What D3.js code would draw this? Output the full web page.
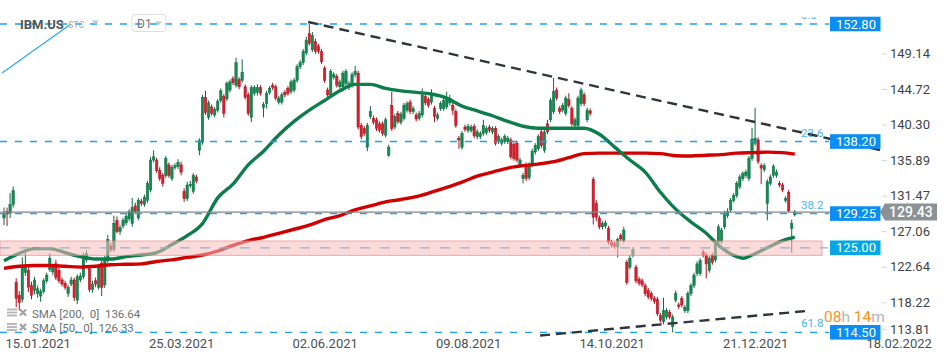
<!DOCTYPE html>
<html><head><meta charset="utf-8">
<script src="https://cdn.jsdelivr.net/npm/d3@7"></script>
<style>
html,body{margin:0;padding:0;background:#fff;}
svg{display:block;font-family:Roboto,"Noto Sans",Arial,sans-serif;}
</style></head><body>
<svg id="chart" width="950" height="361"></svg>
<script>
// ---------- DATA ----------
const opens = [
128.7,129.5,129.3,130.4,120.7,119.1,118.6,121.9,122.2,120.3,
119.7,119.3,119.0,119.6,120.9,122.3,122.0,123.0,122.2,121.0,
120.6,119.3,120.5,121.0,118.5,121.0,121.4,123.5,122.4,119.8,
120.9,120.1,123.1,120.4,123.4,125.2,124.8,128.4,127.0,127.7,
128.1,128.6,128.0,130.2,128.7,130.8,130.4,130.9,132.2,135.9,
135.9,134.6,134.0,134.0,135.3,133.6,135.0,135.1,135.3,132.0,
131.1,132.7,132.0,133.8,137.1,138.1,143.7,141.2,142.5,141.5,
142.1,143.3,143.8,143.5,144.6,146.0,145.2,145.9,145.8,145.0,
144.0,141.2,144.2,144.3,144.9,142.4,
142.9,144.3,145.2,145.0,143.1,143.1,144.3,144.8,144.4,144.6,
145.8,147.5,148.0,149.2,151.6,149.6,150.6,150.0,149.4,147.3,
144.6,144.0,146.2,146.3,145.0,145.0,145.4,144.9,145.2,146.5,
146.7,140.2,139.8,137.5,141.3,141.1,140.9,140.4,140.4,139.0,
136.5,142.7,140.0,141.7,140.6,141.1,142.1,143.1,141.9,141.5,
141.1,141.5,143.8,143.4,143.1,142.3,141.1,142.3,142.3,142.5,
143.0,142.7,141.9,138.6,137.5,140.0,139.6,139.6,140.1,138.8,
138.8,139.2,139.3,140.0,139.4,139.8,138.2,138.0,138.2,138.2,
138.4,137.8,138.0,135.3,133.6,135.3,133.7,135.3,
136.9,137.3,139.4,137.1,140.4,140.9,141.9,144.6,142.3,142.1,
141.7,143.4,142.3,140.2,140.2,142.9,144.0,140.9,142.0,133.5,
130.5,128.7,127.6,127.7,127.4,125.7,125.5,125.1,126.5,125.9,
123.2,122.6,124.1,122.6,121.1,120.9,120.3,119.7,119.3,118.7,
118.6,116.6,115.8,116.4,117.0,115.2,118.5,117.9,118.7,117.2,
117.2,119.3,120.3,121.8,121.8,124.5,124.1,122.2,124.1,123.5,
125.7,125.8,127.6,129.0,129.7,130.9,131.5,132.6,133.6,134.0,
133.6,136.1,138.0,138.4,135.2,134.7,130.5,133.0,134.0,134.0,
133.0,132.8,130.9,131.9,127.4,129.1];
const highs = [
130.0,130.0,131.8,132.6,121.2,119.6,123.8,124.4,122.6,120.8,
121.4,120.3,119.9,121.2,121.9,124.3,123.0,123.5,122.5,121.3,
120.9,120.4,121.4,121.3,121.7,121.9,124.4,124.7,122.8,120.9,
121.3,123.0,123.5,124.0,126.6,125.6,129.0,128.9,127.8,128.7,
129.2,129.8,131.2,130.6,131.2,131.1,131.6,133.3,136.3,137.1,
136.2,135.0,134.3,136.4,135.6,135.3,135.5,136.0,135.7,132.4,
133.2,133.3,134.3,134.1,138.6,144.0,144.5,143.3,142.8,142.5,
143.5,144.8,144.1,145.7,145.9,146.3,148.6,146.2,148.4,145.3,
144.3,145.2,145.2,145.3,145.2,143.1,
144.5,145.1,145.5,145.3,143.9,144.3,144.6,145.1,145.9,146.1,
147.8,148.3,149.7,151.2,152.8,151.8,151.0,150.3,149.7,147.6,
144.9,147.2,146.8,146.6,145.9,147.0,147.2,145.7,146.8,147.6,
147.0,140.5,140.1,140.5,142.6,141.4,141.2,140.7,140.7,141.2,
137.8,144.4,141.6,142.0,141.9,143.0,143.2,143.4,142.6,141.8,
142.0,144.8,144.1,143.7,144.7,142.6,141.8,143.2,143.6,144.4,
144.0,143.0,142.2,138.9,139.5,140.3,140.4,140.3,140.4,139.7,
139.5,140.9,140.1,140.3,140.1,140.1,139.1,138.7,139.1,138.9,
138.7,138.1,138.3,136.2,134.3,135.6,135.6,137.3,
138.0,139.1,139.7,139.7,140.9,143.6,146.1,144.9,142.6,143.0,
143.9,144.2,142.6,141.2,143.9,144.9,144.3,142.4,142.3,133.8,
130.9,129.0,128.3,128.4,127.7,126.0,125.8,126.3,126.8,127.6,
123.5,124.1,125.1,122.9,121.4,121.2,120.6,120.0,119.6,119.0,
118.9,116.9,118.8,117.5,117.3,116.7,119.7,118.2,119.0,117.9,
119.6,120.6,121.9,123.3,123.7,124.8,124.4,124.0,124.4,126.0,
127.9,127.5,129.6,129.9,131.2,131.8,133.3,134.1,134.5,134.7,
136.4,139.9,142.4,138.7,135.5,135.5,133.5,134.1,135.4,134.7,
133.3,133.1,131.4,132.2,128.5,129.7];
const lows = [
127.8,127.7,128.7,130.0,117.6,117.2,118.2,121.5,119.5,118.6,
119.2,118.8,118.3,119.3,120.6,122.0,121.6,121.0,120.6,120.2,
119.8,118.9,120.2,118.4,118.0,120.7,121.1,123.2,119.5,119.4,
120.1,119.8,119.0,120.0,123.1,124.5,124.5,126.8,126.6,127.4,
127.8,128.3,127.6,129.2,128.4,130.2,130.1,130.6,131.9,135.6,
134.3,133.3,132.6,133.7,133.7,133.3,134.7,134.8,134.0,130.7,
130.8,132.4,131.7,133.0,136.5,137.8,141.5,140.9,141.4,141.2,
141.8,143.0,141.2,143.2,144.3,145.2,144.9,144.7,145.5,143.4,
141.4,140.6,143.9,143.9,143.9,141.2,
142.3,144.0,144.6,143.3,142.8,142.8,143.7,143.9,144.1,144.3,
145.5,147.2,147.7,148.9,150.1,149.3,149.1,149.1,147.8,145.5,
143.7,143.7,145.9,144.9,144.7,144.7,145.1,144.6,144.9,146.2,
139.7,138.5,138.9,137.0,141.0,140.3,139.5,139.3,138.9,138.7,
136.3,139.5,139.7,140.4,140.3,140.8,141.8,141.6,141.6,140.7,
140.8,141.2,142.7,142.4,142.8,140.6,140.8,142.0,142.0,142.2,
142.7,141.5,139.9,137.3,137.2,139.4,139.3,139.3,138.6,138.5,
138.5,138.9,139.0,139.3,139.1,137.7,137.9,137.7,137.9,137.9,
136.0,135.8,135.6,135.0,133.0,133.3,133.4,135.0,
136.6,137.0,137.4,136.8,139.1,140.6,141.6,143.3,141.6,141.8,
141.4,142.4,140.1,139.9,139.9,142.6,142.6,140.6,141.4,127.9,
128.3,127.3,127.3,127.4,125.4,125.0,124.9,123.8,125.8,125.6,
120.4,122.3,123.8,120.6,120.3,120.1,119.0,118.6,118.4,118.0,
116.5,115.7,115.5,116.1,116.1,114.5,118.2,117.4,117.6,116.9,
116.9,119.0,120.0,121.5,121.5,123.8,121.2,121.9,122.9,123.2,
125.4,125.5,127.3,128.7,129.4,130.6,131.2,132.3,133.3,133.7,
133.3,135.8,137.7,135.4,132.9,134.4,128.4,132.7,133.7,133.7,
132.5,131.9,130.6,129.4,124.4,128.9];
const closes = [
129.3,129.2,130.4,132.1,118.7,118.2,122.6,122.7,120.1,119.1,
121.0,119.9,119.6,120.9,121.6,123.7,122.6,121.3,120.9,120.5,
120.1,120.1,121.0,118.8,121.4,121.5,124.1,124.3,119.8,120.5,
120.5,122.6,120.1,123.7,126.0,124.8,128.0,127.0,127.5,128.4,
128.9,129.5,130.0,129.5,130.9,130.5,131.3,133.0,135.9,136.3,
134.6,133.6,133.0,136.1,134.0,135.0,135.2,135.6,134.4,131.1,
132.8,132.9,134.0,133.3,138.3,143.7,141.8,143.0,141.7,142.2,
143.2,144.5,141.7,145.4,145.6,145.5,148.0,145.0,146.8,143.7,
141.7,144.9,144.9,144.9,144.2,142.8,
144.2,144.8,144.9,143.6,143.6,144.0,144.0,144.2,145.6,145.8,
147.5,148.0,149.4,150.8,150.4,151.4,149.4,149.4,148.1,145.8,
144.0,146.9,146.5,145.2,145.6,146.7,146.9,145.4,146.5,146.9,
140.0,138.8,139.2,140.2,141.9,140.6,139.8,139.6,139.2,140.9,
137.5,139.8,141.3,140.7,141.6,142.7,142.9,141.9,142.3,141.0,
141.7,144.0,143.0,142.7,144.2,141.3,141.5,142.9,143.3,143.6,
143.6,142.1,140.2,138.4,139.2,139.7,140.1,140.0,138.9,139.4,
139.2,140.2,139.8,139.6,139.8,138.0,138.8,138.4,138.8,138.6,
136.3,136.1,135.9,135.9,134.0,133.6,135.3,137.0,
137.7,138.8,137.7,139.4,139.4,143.3,144.4,143.6,141.9,142.7,
143.6,142.7,140.4,140.9,143.6,144.6,142.9,142.1,141.7,128.8,
128.8,127.6,128.0,128.1,125.7,125.3,125.2,126.0,126.1,127.2,
120.7,123.7,124.8,120.9,120.6,120.4,119.3,118.9,118.7,118.3,
116.8,116.0,117.2,117.2,116.4,116.4,119.3,117.7,117.9,117.6,
119.3,120.3,121.6,123.0,123.4,124.1,123.0,123.7,123.2,125.7,
127.6,127.2,129.3,129.5,130.9,131.5,133.0,133.8,134.2,134.4,
136.1,138.5,138.6,135.7,134.9,135.2,133.2,133.8,135.1,134.4,
132.8,132.2,131.1,129.6,128.0,129.43];

const sma50Idx = [0,5,10,15,20,25,30,35,40,45,50,55,60,65,70,75,80,85,90,95,100,105,110,115,120,125,130,135,140,145,150,155,160,165,170,175,180,185,190,195,200,205,210,215,220,225,230,233,235,240,242,245,250,255,259];
const sma50 = [123.4,124.3,124.9,124.9,124.4,123.9,123.6,123.6,123.9,124.1,124.4,125.4,126.5,128.0,131.2,132.9,135.3,137.0,139.0,140.7,142.1,143.3,144.5,145.3,145.3,144.8,144.5,144.3,144.1,143.6,142.6,142.0,141.4,140.7,140.1,139.85,139.85,139.85,139.85,139.1,137.5,135.9,134.4,131.9,129.8,128.2,126.8,125.7,125.0,123.9,123.7,124.1,125.0,125.9,126.33];
const sma200Idx = [0,5,10,15,20,25,30,35,40,45,50,55,60,65,70,75,80,85,90,95,100,105,110,115,120,125,130,135,140,145,150,155,160,165,170,175,180,185,190,195,200,205,210,215,220,225,230,235,240,245,250,255,259];
const sma200 = [122.45,122.7,122.8,122.8,122.7,122.6,122.7,122.9,122.95,123.0,123.3,123.5,123.8,124.1,124.6,125.3,125.9,126.3,126.8,127.3,127.8,128.5,129.0,129.7,130.2,130.7,131.0,131.35,131.9,132.5,133.15,133.9,134.4,134.9,135.2,135.4,135.7,136.2,136.7,136.76,136.76,136.76,136.76,136.7,136.44,136.4,136.5,136.57,136.76,136.82,136.88,136.82,136.64];

const levelValues = [152.80, 138.20, 129.25, 114.50];
const fibLabels = ["0.0", "23.6", "38.2", "61.8"];
const zoneValue = 125.00;
const zoneRange = [124.05, 125.85];
const lastPrice = 129.43;
const yTicks = [149.14, 144.72, 140.30, 135.89, 131.47, 127.06, 122.64, 118.22, 113.81];
const xTickIdx = [0, 47, 94, 141, 188, 235, 282];
const xTickLabels = ["15.01.2021","25.03.2021","02.06.2021","09.08.2021","14.10.2021","21.12.2021","18.02.2022"];
const upperTrendIdx = [99.6, 286.9], upperTrendVal = [153.05, 137.15];
const lowerTrendIdx = [175.6, 263.0], lowerTrendVal = [114.1, 117.15];
const legendLines = ["SMA [200,  0]  136.64", "SMA [50,  0]  126.33"];

// ---------- SCALES ----------
const svg = d3.select('#chart');
const x = d3.scaleLinear().domain([0, 282]).range([4, 865]);
const y = d3.scaleLinear().domain([152.8, 114.5]).range([24, 332.3]);

const GREEN = '#138a52', GREEN_D = '#0b6b3d', RED = '#d81f2d', RED_D = '#ab121e';
const LBLUE = '#19a2f2';

const candles = closes.map((c, i) => ({i, o: opens[i], h: highs[i], l: lows[i], c}));

// ---------- CANDLES ----------
const cg = svg.append('g');
cg.selectAll('line.wick').data(candles).join('line')
  .attr('x1', d => x(d.i)).attr('x2', d => x(d.i))
  .attr('y1', d => y(d.h)).attr('y2', d => y(d.l))
  .attr('stroke', d => d.c >= d.o ? GREEN_D : RED_D).attr('stroke-width', 1);
cg.selectAll('rect.body').data(candles).join('rect')
  .attr('x', d => x(d.i) - 1.2).attr('width', 2.4)
  .attr('y', d => y(Math.max(d.o, d.c)))
  .attr('height', d => Math.max(1.2, Math.abs(y(d.o) - y(d.c))))
  .attr('fill', d => d.c >= d.o ? GREEN : RED)
  .attr('stroke', d => d.c >= d.o ? GREEN_D : RED_D).attr('stroke-width', 0.5);

// ---------- SMA ----------
const lineGen = d3.line().x(d => x(d[0])).y(d => y(d[1])).curve(d3.curveMonotoneX);
svg.append('path').datum(sma200Idx.map((v, k) => [v, sma200[k]]))
  .attr('d', lineGen).attr('fill', 'none').attr('stroke', '#d10000').attr('stroke-width', 3.4).attr('stroke-linejoin','round');
svg.append('path').datum(sma50Idx.map((v, k) => [v, sma50[k]]))
  .attr('d', lineGen).attr('fill', 'none').attr('stroke', '#0d7d4b').attr('stroke-width', 3.4).attr('stroke-linejoin','round');

// ---------- ZONE ----------
svg.append('rect').attr('x', 0).attr('width', 822)
  .attr('y', y(zoneRange[1])).attr('height', y(zoneRange[0]) - y(zoneRange[1]))
  .attr('fill', 'rgba(247,188,188,0.55)').attr('stroke', 'rgba(232,120,120,0.55)').attr('stroke-width', 1);
svg.append('line').attr('x1', 0).attr('x2', 828).attr('y1', y(zoneValue)).attr('y2', y(zoneValue))
  .attr('stroke', '#8fb2d6').attr('stroke-width', 1.3).attr('stroke-dasharray', '10,10');

// ---------- LEVEL LINES ----------
svg.selectAll('line.lvl').data(levelValues).join('line')
  .attr('x1', 0).attr('x2', 829).attr('y1', d => y(d)).attr('y2', d => y(d))
  .attr('stroke', LBLUE).attr('stroke-width', 1.3).attr('stroke-dasharray', '7,8');

// current price line
svg.append('line').attr('x1', 0).attr('x2', 882).attr('y1', y(lastPrice)).attr('y2', y(lastPrice))
  .attr('stroke', '#7d888b').attr('stroke-width', 1.4);

// fib labels
svg.append('defs').append('clipPath').attr('id', 'topclip')
  .append('rect').attr('x', 0).attr('y', 17.2).attr('width', 950).attr('height', 345);
svg.selectAll('text.fib').data(levelValues).join('text')
  .attr('x', 801).attr('y', d => y(d) - 5)
  .attr('clip-path', 'url(#topclip)')
  .attr('font-size', 11.5).attr('fill', '#48b4ef')
  .text((d, k) => fibLabels[k]);

// ---------- TRENDLINES ----------
const trend = [[upperTrendIdx, upperTrendVal], [lowerTrendIdx, lowerTrendVal]];
trend.forEach(([ix, vv]) => {
  svg.append('line')
    .attr('x1', x(ix[0])).attr('y1', y(vv[0])).attr('x2', x(ix[1])).attr('y2', y(vv[1]))
    .attr('stroke', '#2f363b').attr('stroke-width', 2.4).attr('stroke-dasharray', '10,6');
});

// ---------- LEVEL LABEL BOXES ----------
const boxes = levelValues.map(v => ({v, fill: '#0a8ef5'}));
boxes.push({v: zoneValue, fill: '#04a6e6'});
const bg = svg.selectAll('g.box').data(boxes).join('g');
bg.append('rect').attr('x', 830).attr('width', 50.5)
  .attr('y', d => y(d.v) - 7.3).attr('height', 14.6).attr('fill', d => d.fill);
bg.append('text').attr('x', 836).attr('y', d => y(d.v) + 4.6)
  .attr('font-size', 13).attr('fill', '#fff').text(d => d3.format('.2f')(d.v));

// ---------- Y AXIS ----------
const yAxis = d3.axisRight(y).tickValues(yTicks).tickFormat(d3.format('.2f')).tickSize(5).tickPadding(3);
const ya = svg.append('g').attr('transform', 'translate(882,0)').call(yAxis);
ya.select('.domain').remove();
ya.selectAll('.tick line').attr('stroke', '#d6d6d6');
ya.selectAll('.tick text').attr('font-size', 13).attr('fill', '#3d4447').attr('font-family', 'Roboto, Arial, sans-serif');
ya.selectAll('.tick').filter(d => y(d) > 332).attr('transform', d => `translate(0,${y(d) - 8.5})`);

// current price tag
const ly = y(lastPrice);
svg.append('path')
  .attr('d', `M880,${ly} L885,${ly - 8.5} L937,${ly - 8.5} L937,${ly + 8.5} L885,${ly + 8.5} Z`)
  .attr('fill', '#8a9295');
svg.append('text').attr('x', 889).attr('y', ly + 5).attr('font-size', 14).attr('font-weight', 500)
  .attr('fill', '#fff').text(d3.format('.2f')(lastPrice));

// ---------- X AXIS ----------
const xAxis = d3.axisBottom(x).tickValues(xTickIdx).tickFormat((d, k) => xTickLabels[k]).tickSize(0).tickPadding(0);
const xa = svg.append('g').attr('transform', 'translate(0,338)').call(xAxis);
xa.select('.domain').remove();
xa.selectAll('.tick text').attr('text-anchor', 'start').attr('dx', 1).attr('dy', 10)
  .attr('font-size', 13).attr('fill', '#4a5053').attr('font-family', 'Roboto, Arial, sans-serif');

// ---------- TIMER ----------
const tm = svg.append('text').attr('x', 824).attr('y', 322).attr('font-size', 15.5);
tm.append('tspan').attr('fill', '#f7931e').text('08');
tm.append('tspan').attr('fill', '#b5b5b5').text('h ');
tm.append('tspan').attr('fill', '#f7931e').text('14');
tm.append('tspan').attr('fill', '#b5b5b5').text('m');

// ---------- HEADER ----------
svg.append('line').attr('x1', 2).attr('y1', 73).attr('x2', 71).attr('y2', 24)
  .attr('stroke', '#2aa8ef').attr('stroke-width', 1.2);
svg.append('text').attr('x', 20).attr('y', 28.5).attr('font-size', 13).attr('font-weight', 'bold')
  .attr('fill', '#4f5659').text('IBM.US');
svg.append('text').attr('x', 68).attr('y', 27.5).attr('font-size', 9).attr('fill', '#a7acae').text('STC');
svg.append('path').attr('d', 'M92,20.5 L99,20.5 L95.5,24.5 Z').attr('fill', '#c4c8ca');
svg.append('rect').attr('x', 132).attr('y', 14.5).attr('width', 34).attr('height', 17).attr('rx', 3)
  .attr('fill', 'none').attr('stroke', '#dcdfe0');
svg.append('text').attr('x', 137).attr('y', 27.5).attr('font-size', 12).attr('fill', '#6d7477').text('D1');
svg.append('path').attr('d', 'M155,21.5 L162,21.5 L158.5,25.5 Z').attr('fill', '#c4c8ca');

// ---------- LEGEND ----------
const lg = svg.selectAll('g.leg').data(legendLines).join('g')
  .attr('transform', (d, k) => `translate(0,${313.5 + k * 14.5})`);
lg.each(function() {
  const g = d3.select(this);
  [-4, -1, 2].forEach(o => g.append('line').attr('x1', 7).attr('x2', 17).attr('y1', o).attr('y2', o)
    .attr('stroke', '#b3b3b3').attr('stroke-width', 1.8));
  g.append('path').attr('d', 'M20,-4 L26,2 M26,-4 L20,2').attr('stroke', '#a3a3a3').attr('stroke-width', 2.2);
});
lg.append('text').attr('x', 32).attr('y', 4).attr('font-size', 11.5).attr('fill', '#6b7275')
  .attr('xml:space', 'preserve').style('white-space', 'pre').text(d => d);
</script>
</body></html>
